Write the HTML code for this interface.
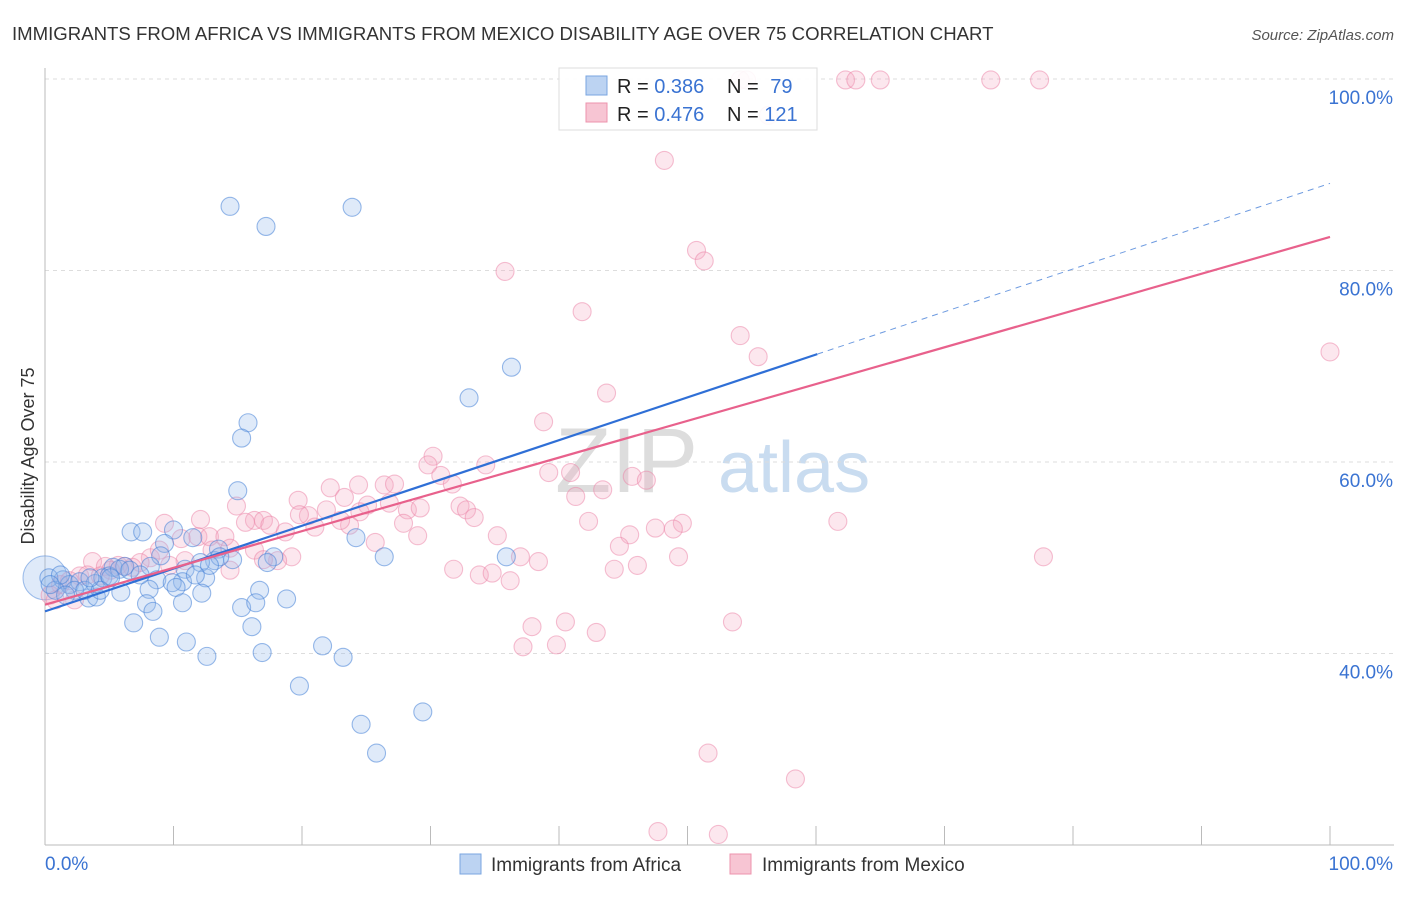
<!DOCTYPE html>
<html><head><meta charset="utf-8"><style>
body{margin:0;background:#fff;font-family:"Liberation Sans",sans-serif}
svg text{font-family:"Liberation Sans",sans-serif}
</style></head><body>
<svg id="c" width="1406" height="892" xmlns="http://www.w3.org/2000/svg">
<text x="12" y="40" font-size="18.6" fill="#333">IMMIGRANTS FROM AFRICA VS IMMIGRANTS FROM MEXICO DISABILITY AGE OVER 75 CORRELATION CHART</text>
<text x="1394" y="40" font-size="15" fill="#555" text-anchor="end" font-style="italic">Source: ZipAtlas.com</text>
<text transform="translate(34,456) rotate(-90)" font-size="18" fill="#333" text-anchor="middle">Disability Age Over 75</text>
<g><text x="555" y="492" font-size="92" fill="#ddd" font-family="Liberation Serif,serif">ZIP</text><text x="718" y="492" font-size="72" fill="#c9dcf0">atlas</text></g>
<g id="grid"></g><g id="axes"></g><g id="pts"></g><g id="lines"></g>
<g>
<rect x="559" y="68" width="258" height="62" fill="#fff" fill-opacity="0.9" stroke="#ddd"/>
<rect x="586" y="76" width="21" height="19" fill="#bcd3f2" stroke="#7aa6e0"/>
<rect x="586" y="103" width="21" height="19" fill="#f7c5d3" stroke="#ec93ad"/>
<text x="617" y="93" font-size="20" fill="#222">R = <tspan fill="#3a73d2">0.386</tspan></text>
<text x="727" y="93" font-size="20" fill="#222">N = <tspan fill="#3a73d2" dx="6">79</tspan></text>
<text x="617" y="121" font-size="20" fill="#222">R = <tspan fill="#3a73d2">0.476</tspan></text>
<text x="727" y="121" font-size="20" fill="#222">N = <tspan fill="#3a73d2">121</tspan></text>
</g>
<g>
<rect x="460" y="854" width="21" height="20" fill="#bcd3f2" stroke="#7aa6e0"/>
<text x="491" y="871" font-size="19" fill="#333">Immigrants from Africa</text>
<rect x="730" y="854" width="21" height="20" fill="#f7c5d3" stroke="#ec93ad"/>
<text x="762" y="871" font-size="19" fill="#333">Immigrants from Mexico</text>
</g>
</svg>
<script>
const blueX=[14.4,17.2,23.9,36.3,33.0,15.8,15.3,15.0,6.7,7.6,10.0,11.5,9.3,13.5,13.2,14.6,12.1,9.0,26.4,24.2,35.9,17.8,17.3,5.3,6.2,8.2,10.9,12.5,10.7,8.7,9.9,10.2,8.1,5.9,12.2,16.7,18.8,3.4,4.0,1.4,1.9,2.7,3.9,4.5,0.3,0.8,5.0,5.8,7.9,8.4,10.7,15.3,16.4,6.9,16.1,8.9,11.0,12.6,16.9,21.6,23.2,19.8,24.6,29.4,25.8,1.2,2.3,3.1,6.6,5.1,4.3,1.6,0.4,3.5,7.4,13.6,12.8,11.7];
const blueY=[86.7,84.6,86.6,69.9,66.7,64.1,62.5,57.0,52.7,52.7,52.9,52.1,51.5,50.9,49.7,49.8,49.5,50.2,50.1,52.1,50.1,50.1,49.5,49.0,49.1,49.1,48.8,47.9,47.5,47.7,47.4,46.9,46.7,46.4,46.3,46.6,45.7,45.8,45.9,47.7,47.2,47.5,47.3,47.9,47.9,46.6,48.1,48.8,45.2,44.4,45.3,44.8,45.3,43.2,42.8,41.7,41.2,39.7,40.1,40.8,39.6,36.6,32.6,33.9,29.6,48.2,46.6,46.6,48.7,47.9,46.6,46.1,47.2,47.9,48.2,50.1,49.2,48.2];
const pinkX=[54.1,54.6,62.3,63.1,65.0,73.6,77.4,56.3,48.2,50.7,51.3,35.8,41.8,54.1,55.5,100,43.7,38.8,30.2,29.8,34.3,39.2,40.9,30.8,24.4,22.2,26.4,27.2,31.7,43.4,45.7,46.8,41.3,23.3,19.7,21.9,14.9,32.3,32.8,33.4,25.1,26.8,28.2,29.2,16.3,17.0,17.5,15.6,18.7,20.5,21.0,23.7,23.0,27.9,42.3,49.6,47.5,48.9,61.7,45.5,44.7,35.2,29.0,25.7,9.3,10.6,11.9,12.8,14.0,13.0,14.4,16.3,19.2,18.1,17.0,8.2,8.9,7.4,5.7,6.8,3.7,4.7,2.7,1.9,1.2,0.4,0.8,3.3,37.0,38.4,77.7,49.3,46.1,44.3,36.2,33.8,31.8,34.8,40.5,42.9,37.9,37.2,39.8,53.5,51.6,58.4,47.7,52.4,12.1,10.9,6.2,5.1,4.3,2.3,19.8,24.5,14.4,9.7];
const pinkY=[99.9,99.9,99.9,99.9,99.9,99.9,99.9,96.2,91.5,82.1,81.0,79.9,75.7,73.2,71.0,71.5,67.2,64.2,60.6,59.7,59.7,58.9,58.9,58.6,57.6,57.3,57.6,57.7,57.7,57.1,58.5,58.1,56.4,56.3,56.0,55.0,55.4,55.4,55.0,54.2,55.5,55.7,55.0,55.2,53.9,53.9,53.4,53.7,52.7,54.4,53.2,53.4,53.9,53.6,53.8,53.6,53.1,53.0,53.8,52.4,51.2,52.3,52.3,51.6,53.6,52.0,52.2,52.2,52.2,50.8,51.0,50.8,50.1,49.7,49.8,50.0,50.8,49.5,49.2,49.0,49.6,49.1,48.1,47.6,47.2,46.1,45.6,48.2,50.1,49.6,50.1,50.1,49.2,48.8,47.6,48.2,48.8,48.4,43.3,42.2,42.8,40.7,40.9,43.3,29.6,26.9,21.4,21.1,54.0,49.7,49.1,48.7,48.1,45.6,54.5,54.8,48.7,49.2];
const yTicks=[40,60,80,100];
const blueFit=[44.4,0.447], pinkFit=[45.1,0.384];
const X=v=>45+v*12.85, Y=v=>845-(v-20)*9.575;
const NS='http://www.w3.org/2000/svg';
function mk(t,a,p){const e=document.createElementNS(NS,t);for(const k in a)e.setAttribute(k,a[k]);document.getElementById(p).appendChild(e);return e;}
yTicks.forEach(t=>{
 const g=mk('line',{x1:45,x2:1394,y1:Y(t),y2:Y(t),stroke:'#ddd','stroke-dasharray':'4,4'},'grid');
 
 
 const l=mk('text',{x:1393,y:Y(t)+25,'font-size':19,fill:'#3a73d2','text-anchor':'end'},'grid');
 l.textContent=t.toFixed(1)+'%';
 
 
});
const ax=mk('line',{x1:45,x2:1394,y1:845,y2:845,stroke:'#bbb'},'axes');


const ay=mk('line',{x1:45,x2:45,y1:68,y2:845,stroke:'#bbb'},'axes');


for(let i=0;i<=10;i++){const t=mk('line',{x1:X(i*10),x2:X(i*10),y1:826,y2:845,stroke:'#bbb'},'axes');
 
 }
[[0,'0.0%','start',45],[100,'100.0%','end',1393]].forEach(d=>{const t=mk('text',{x:d[3],y:870,'font-size':19,fill:'#3a73d2','text-anchor':d[2]},'axes');t.textContent=d[1];
 
 });
const big=mk('circle',{cx:X(0),cy:Y(47.9),r:22,fill:'rgba(150,185,235,0.3)',stroke:'rgba(70,130,215,0.5)'},'pts');


pinkX.forEach((x,i)=>{const c=mk('circle',{cx:X(x),cy:Y(pinkY[i]),r:9,fill:'rgba(245,170,195,0.28)',stroke:'rgba(236,130,165,0.5)','stroke-width':1.1},'pts');
 
 });
blueX.forEach((x,i)=>{const c=mk('circle',{cx:X(x),cy:Y(blueY[i]),r:9,fill:'rgba(150,185,235,0.3)',stroke:'rgba(70,130,215,0.55)','stroke-width':1.1},'pts');
 
 });
const f=(p,x)=>p[0]+p[1]*x;
const bl=mk('line',{x1:X(0),y1:Y(f(blueFit,0)),x2:X(60.1),y2:Y(f(blueFit,60.1)),stroke:'#2f6fd6','stroke-width':2.2},'lines');


const bd=mk('line',{x1:X(60.1),y1:Y(f(blueFit,60.1)),x2:X(100),y2:Y(f(blueFit,100)),stroke:'#6e9be0','stroke-width':1,'stroke-dasharray':'6,5'},'lines');


const pl=mk('line',{x1:X(0),y1:Y(f(pinkFit,0)),x2:X(100),y2:Y(f(pinkFit,100)),stroke:'#e8618c','stroke-width':2.2},'lines');


</script>
</body></html>
